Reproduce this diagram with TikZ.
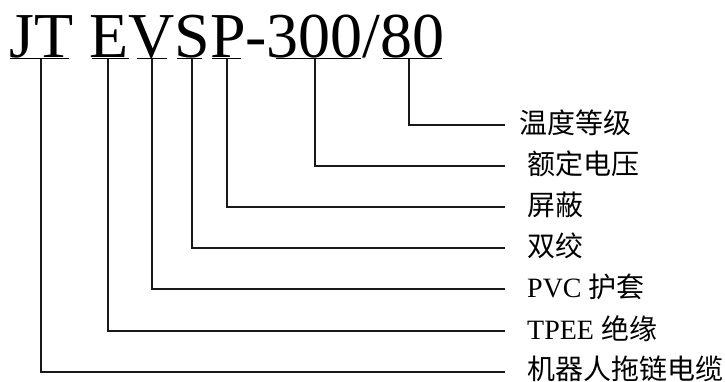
\documentclass[tikz,border=0pt]{standalone}
\usepackage{fontspec}
\setmainfont{Liberation Serif}
\newfontfamily\cjk{Noto Sans CJK SC}
\begin{document}
\begin{tikzpicture}[x=1pt,y=-1pt,
  conn/.style={line width=1.5pt,black!90},
  uline/.style={line width=1pt,black},
  lbl/.style={anchor=west,inner sep=0pt,font=\fontsize{28}{32}\selectfont}]
\useasboundingbox (0,0) rectangle (725,382);
\node[anchor=base west,inner sep=0pt,font=\fontsize{64}{70}\selectfont] (title) at (9,58) {JT EVSP-300/80};
% underlines
\draw[uline] (10,58.5) -- (69,58.5);
\draw[uline] (92,58.5) -- (129,58.5);
\draw[uline] (137,58.5) -- (167,58.5);
\draw[uline] (177,58.5) -- (202,58.5);
\draw[uline] (212,58.5) -- (241,58.5);
\draw[uline] (276,58.5) -- (361,58.5);
\draw[uline] (383,58.5) -- (442,58.5);
% start points
\coordinate (s1) at (409,59);
\coordinate (s2) at (315,59);
\coordinate (s3) at (227,59);
\coordinate (s4) at (192,59);
\coordinate (s5) at (152,59);
\coordinate (s6) at (108,59);
\coordinate (s7) at (41,59);
% end points
\coordinate (e1) at (505,125);
\coordinate (e2) at (505,166);
\coordinate (e3) at (505,207);
\coordinate (e4) at (505,248);
\coordinate (e5) at (505,289);
\coordinate (e6) at (505,331);
\coordinate (e7) at (505,372);
% labels
\node[lbl] (l1) at (519,123) {\cjk 温度等级};
\node[lbl] (l2) at (527,164) {\cjk 额定电压};
\node[lbl] (l3) at (527,205) {\cjk 屏蔽};
\node[lbl] (l4) at (527,246) {\cjk 双绞};
\node[lbl] (l5) at (527,287) {PVC {\cjk 护套}};
\node[lbl] (l6) at (527,329) {TPEE {\cjk 绝缘}};
\node[lbl] (l7) at (527,369) {\cjk 机器人拖链电缆};
% connectors
\foreach \i in {1,...,7} {\draw[conn] (s\i) |- (e\i);}
\end{tikzpicture}
\end{document}
